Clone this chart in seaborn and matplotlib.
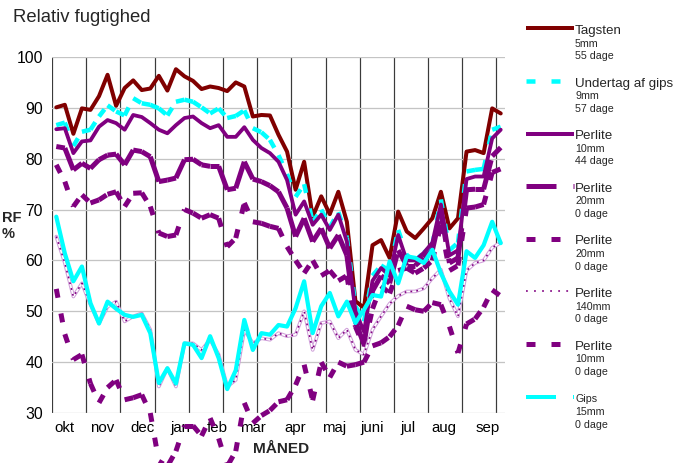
import numpy as np
import pandas as pd
import matplotlib
matplotlib.use("Agg")
import matplotlib.pyplot as plt
import seaborn as sns
from matplotlib.collections import LineCollection
from matplotlib.lines import Line2D

# ---------------- data ----------------
months = ["okt", "nov", "dec", "jan", "feb", "mar", "apr", "maj", "juni", "jul", "aug", "sep"]
month_pos = [1.5, 5.85, 10.6, 15.0, 19.3, 23.5, 28.4, 33.0, 37.5, 41.6, 45.85, 51.0]
week = np.arange(53) + 0.5

tagsten = [90.1, 90.6, 84.9, 89.9, 89.6, 92.3, 96.5, 90.4, 93.9, 95.4,
           93.5, 93.8, 96.3, 93.4, 97.6, 96.2, 95.3, 93.7, 94.2, 93.9,
           93.3, 95.0, 94.2, 88.3, 88.6, 88.5, 84.7, 81.4, 73.9, 79.4,
           68.6, 72.6, 69.1, 73.5, 67.6, 52.0, 50.7, 63.0, 64.0, 60.5,
           69.6, 65.7, 64.4, 66.3, 68.3, 73.5, 66.3, 68.3, 81.4, 81.7,
           81.1, 89.9, 88.9]
undertag = [86.6, 87.1, 82.5, 85.3, 85.7, 88.3, 90.5, 89.3, 88.5, 91.9,
            90.9, 90.6, 89.9, 88.5, 91.2, 91.6, 91.2, 90.1, 88.9, 89.9,
            88.0, 88.4, 89.5, 86.0, 85.2, 83.7, 80.7, 77.0, 72.5, 75.0,
            67.5, 70.0, 66.5, 69.5, 64.5, 51.0, 48.0, 57.0, 59.0, 58.0,
            66.0, 61.0, 60.0, 61.5, 63.0, 72.0, 62.0, 63.5, 77.5, 77.8,
            78.0, 85.7, 86.3]
perlite10_44 = [85.8, 86.0, 81.1, 83.4, 83.6, 86.3, 87.6, 87.0, 85.7, 88.6,
                88.2, 87.0, 85.7, 85.0, 86.6, 88.0, 88.3, 87.0, 86.0, 86.6,
                84.3, 84.3, 86.2, 83.7, 82.1, 81.1, 79.4, 75.8, 69.0, 71.6,
                67.0, 69.0, 66.0, 69.0, 63.7, 50.0, 46.0, 56.0, 58.5, 57.0,
                65.0, 60.0, 60.0, 61.5, 63.5, 71.0, 61.0, 62.0, 76.0, 76.5,
                76.5, 84.0, 85.7]
perlite20_long = [82.4, 82.1, 77.8, 79.1, 78.1, 79.8, 80.7, 80.9, 78.8, 81.7,
                  81.4, 80.4, 75.5, 75.8, 76.2, 79.8, 79.9, 78.8, 78.5, 78.5,
                  73.9, 74.2, 79.4, 76.0, 75.5, 74.7, 73.5, 70.3, 64.7, 68.3,
                  63.7, 66.3, 62.4, 65.0, 61.0, 48.0, 43.5, 54.0, 57.0, 55.5,
                  62.0, 59.0, 59.0, 60.5, 62.0, 69.5, 59.5, 60.5, 73.9, 74.0,
                  74.0, 80.5, 82.2]
perlite20_short = [78.8, 75.5, 70.6, 72.9, 71.3, 71.9, 73.0, 73.5, 70.6, 73.2,
                   73.3, 70.6, 65.4, 64.7, 65.0, 70.0, 69.3, 68.3, 69.0, 68.3,
                   62.7, 64.4, 71.3, 67.6, 67.3, 66.7, 66.3, 62.7, 60.0, 57.5,
                   60.0, 57.0, 58.0, 56.0, 57.0, 47.0, 43.0, 50.5, 55.0, 53.5,
                   58.0, 58.5, 57.5, 58.5, 60.0, 67.0, 58.0, 59.0, 70.3, 70.5,
                   71.0, 77.3, 78.0]
perlite140 = [64.7, 59.5, 52.9, 55.5, 51.3, 47.6, 50.9, 51.9, 48.0, 49.0,
              49.6, 46.4, 35.2, 38.8, 35.2, 43.7, 43.7, 42.4, 44.4, 41.5,
              35.2, 36.5, 46.4, 43.7, 44.7, 44.4, 45.7, 45.1, 45.4, 50.0,
              42.4, 47.7, 48.0, 44.7, 46.4, 42.4, 41.5, 46.4, 49.0, 51.5,
              53.0, 53.9, 53.9, 54.5, 56.5, 58.2, 52.5, 49.0, 58.0, 59.5,
              60.0, 62.5, 63.5]
perlite10_0 = [54.4, 45.5, 40.5, 41.5, 35.8, 32.0, 35.0, 36.5, 32.6, 33.0,
               33.6, 30.0, 20.5, 19.5, 22.5, 27.5, 27.5, 25.5, 29.0, 25.0,
               19.5, 22.5, 32.0, 28.0, 29.5, 30.5, 32.2, 32.6, 35.5, 39.5,
               32.5, 40.0, 37.0, 40.0, 39.2, 39.5, 40.0, 43.2, 43.8, 45.0,
               47.2, 51.0, 50.3, 50.0, 51.7, 51.3, 47.0, 41.8, 47.5, 48.5,
               50.8, 54.2, 53.0]
gips = [68.6, 61.4, 55.9, 58.8, 51.6, 47.6, 51.9, 50.5, 49.3, 48.9,
        49.3, 45.7, 35.9, 38.8, 35.8, 43.7, 43.4, 40.8, 45.1, 40.8,
        34.7, 38.4, 48.3, 42.4, 45.7, 45.4, 47.3, 47.0, 50.6, 55.9,
        45.7, 51.0, 53.6, 49.0, 51.9, 47.7, 50.3, 53.2, 52.9, 59.8,
        55.5, 60.8, 60.5, 59.5, 62.1, 57.5, 53.9, 51.3, 61.8, 60.5,
        63.0, 67.6, 63.4]

legend_names = ["Tagsten", "Undertag af gips", "Perlite", "Perlite", "Perlite", "Perlite", "Perlite", "Gips"]
legend_thick = ["5mm", "9mm", "10mm", "20mm", "20mm", "140mm", "10mm", "15mm"]
legend_days = ["55 dage", "57 dage", "44 dage", "0 dage", "0 dage", "0 dage", "0 dage", "0 dage"]

# ---------------- style ----------------
sns.set_theme(style="white")
plt.rcParams["font.family"] = ["Liberation Sans", "DejaVu Sans"]
plt.rcParams["lines.scale_dashes"] = False

W, H = 689, 463
fig = plt.figure(figsize=(W / 100, H / 100), dpi=100)
ax = fig.add_axes([52 / W, 1 - 413 / H, (505 - 52) / W, (413 - 57) / H])

PX = 0.72  # points per pixel
DARKRED = "#800000"
CYAN = "#00FFFF"
PURPLE = "#800080"
SHORT = (0, (9 * PX, 16 * PX))
LONG = (0, (30 * PX, 17 * PX))


def seg_dashed(y, color, lw_px, dash, clip=True, z=2):
    pts = np.column_stack([week, np.asarray(y, float)])
    segs = np.stack([pts[:-1], pts[1:]], axis=1)
    lc = LineCollection(segs, colors=color, linewidths=lw_px * PX,
                        linestyles=[dash], capstyle="butt", zorder=z)
    lc.set_clip_on(clip)
    ax.add_collection(lc)


df = pd.DataFrame({"week": week, "tagsten": tagsten, "p44": perlite10_44,
                   "p140": perlite140, "gips": gips})

sns.lineplot(data=df, x="week", y="tagsten", ax=ax, color=DARKRED, lw=4 * PX, zorder=3, legend=False)
seg_dashed(undertag, CYAN, 4.5, SHORT, z=4)
sns.lineplot(data=df, x="week", y="p44", ax=ax, color=PURPLE, lw=3.8 * PX, zorder=5, legend=False)
seg_dashed(perlite20_long, PURPLE, 5, LONG, z=6)
seg_dashed(perlite20_short, PURPLE, 5, SHORT, z=7)
sns.lineplot(data=df, x="week", y="p140", ax=ax, color="#cf9ed9", lw=3.6 * PX, zorder=8, legend=False)
sns.lineplot(data=df, x="week", y="p140", ax=ax, color="white", lw=1.6 * PX, zorder=8.1, legend=False)
sns.lineplot(data=df, x="week", y="p140", ax=ax, color=PURPLE, lw=1.6 * PX, zorder=8.2,
             dashes=False, legend=False)
ax.lines[-1].set_dashes((1.3, 3.0))
seg_dashed(perlite10_0, PURPLE, 5, SHORT, clip=False, z=9)
sns.lineplot(data=df, x="week", y="gips", ax=ax, color=CYAN, lw=4.2 * PX, zorder=10, legend=False)

# ---------------- axes ----------------
ax.set_xlim(0, 53)
ax.set_ylim(30, 100)
ax.set_yticks(range(30, 101, 10))
ax.set_xticks(month_pos)
ax.set_xticklabels(months)
ax.set_xticks(np.arange(0, 53, 4), minor=True)
ax.set_xlabel("")
ax.set_ylabel("")
ax.yaxis.grid(True, color="#c4c4c4", lw=1.3 * PX)
ax.xaxis.grid(True, which="minor", color="#3a3a3a", lw=1.2 * PX)
ax.xaxis.grid(False, which="major")
ax.set_axisbelow(True)
for s in ax.spines.values():
    s.set_visible(False)
ax.tick_params(axis="y", length=0, pad=6.5, labelsize=11.3, labelcolor="black")
ax.tick_params(axis="x", which="both", length=0, pad=6, labelsize=10.8, labelcolor="black")

# ---------------- texts ----------------
fig.text(13 / W, 1 - 17 / H, "Relativ fugtighed", fontsize=13.3, va="center", ha="left")
fig.text(2 / W, 1 - 218 / H, "RF", fontsize=10.5, fontweight="bold", va="center", ha="left")
fig.text(2 / W, 1 - 234 / H, "%", fontsize=10.5, fontweight="bold", va="center", ha="left")
fig.text(281 / W, 1 - 449 / H, "MÅNED", fontsize=11.1, fontweight="bold", va="center", ha="center")

# ---------------- legend ----------------
leg_styles = [
    (DARKRED, 4, "-"),
    (CYAN, 4.5, SHORT),
    (PURPLE, 4, "-"),
    (PURPLE, 5, LONG),
    (PURPLE, 5, SHORT),
    (PURPLE, 1.6, (0, (1.3, 4.5))),
    (PURPLE, 5, SHORT),
    (CYAN, 4, LONG),
]
for k in range(8):
    ly = 28.3 + 52.6 * k
    col, lwp, ls = leg_styles[k]
    ln = Line2D([526 / W, 574 / W], [1 - ly / H, 1 - ly / H], transform=fig.transFigure,
                color=col, lw=lwp * PX, linestyle=ls, solid_capstyle="butt", dash_capstyle="butt")
    fig.add_artist(ln)
    nsize = 7.7 if legend_names[k] == "Gips" else 9.6
    fig.text(575 / W, 1 - (ly + 2.7) / H, legend_names[k], fontsize=nsize, va="center", ha="left")
    fig.text(575 / W, 1 - (ly + 15.3) / H, legend_thick[k], fontsize=7.7, va="center", ha="left")
    fig.text(575 / W, 1 - (ly + 28) / H, legend_days[k], fontsize=7.7, va="center", ha="left")

fig.savefig("out.png", dpi=100)
